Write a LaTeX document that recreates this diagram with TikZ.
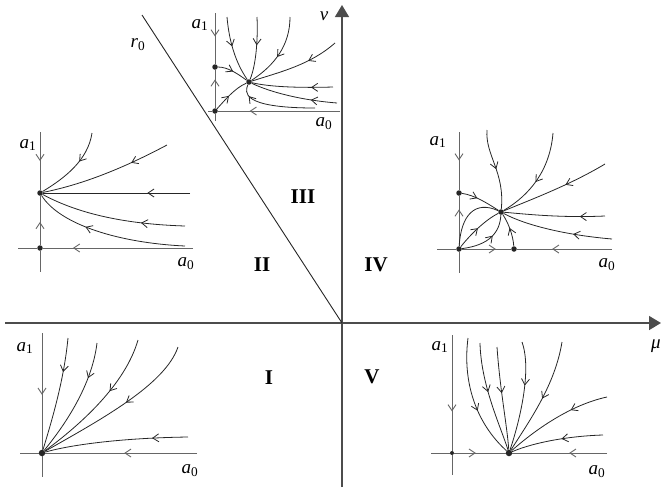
\documentclass[tikz,border=0pt]{standalone}
\usepackage{fontspec}
\setmainfont{Liberation Serif}
\usepackage{tikz}
\usetikzlibrary{arrows.meta,decorations.markings}

\begin{document}
\begin{tikzpicture}[
        x=1pt, y=-1pt,
        main_axis/.style={
            draw=black!70,
            line width=1.5pt,
            -{Triangle[length=12pt,width=14pt]}
        },
        plain_axis/.style={
            draw=black!60,
            line width=0.9pt
        },
        axis_flow/.style={
            plain_axis,
            decoration={markings,
                mark=at position #1 with {\arrow{Straight Barb[length=6pt,width=8pt]}}},
            postaction={decorate}
        },
        flow_line/.style={
            draw=black!85,
            line width=0.8pt,
            decoration={markings,
                mark=at position #1 with {\arrow{Straight Barb[length=6pt,width=8pt]}}},
            postaction={decorate}
        },
        fix_dot/.style={
            circle,
            fill=black!85,
            minimum size=5.5pt,
            inner sep=0pt
        },
        big_dot/.style={
            fix_dot,
            minimum size=6.5pt
        },
        axis_label/.style={
            font=\fontsize{19}{19}\selectfont,
            inner sep=0pt
        },
        region_label/.style={
            font=\fontsize{21}{21}\selectfont\bfseries,
            inner sep=0pt
        }
    ]
        \useasboundingbox (0,0) rectangle (661,488);

        % Parameter plane
        \coordinate (xl) at (5,323);
        \coordinate (xr) at (661,323);
        \coordinate (yb) at (342,487);
        \coordinate (yt) at (342,5);
        \coordinate (orig) at (342,323);
        \coordinate (rtop) at (142,15);
        \draw[main_axis] (xl) -- (xr);
        \draw[main_axis] (yb) -- (yt);
        \draw[draw=black!85, line width=0.9pt] (rtop) -- (orig);

        \node[axis_label] (lmu) at (656,346) {\textit{μ}};
        \node[axis_label] (lv)  at (324,16) {\textit{v}};
        \node[axis_label] (lr0) at (138,45) {\textit{r}\textsubscript{0}};

        \node[region_label] (reg1) at (269,378) {I};
        \node[region_label] (reg2) at (262,265) {II};
        \node[region_label] (reg3) at (303,197) {III};
        \node[region_label] (reg4) at (376,265) {IV};
        \node[region_label] (reg5) at (372,377) {V};

        % Region III portrait
        \node[fix_dot] (o3) at (215,111) {};
        \node[fix_dot] (p3) at (215,67) {};
        \node[fix_dot] (n3) at (249,82) {};
        \draw[axis_flow=0.46] (215,13) -- (p3);
        \draw[axis_flow=0.75] (o3) -- (p3);
        \draw[plain_axis] (o3) -- (215,121);
        \draw[axis_flow=0.74] (340,111) -- (o3);
        \draw[plain_axis] (o3) -- (208,111);
        \draw[flow_line=0.45] (227,17) .. controls (229,40) and (235,62) .. (n3);
        \draw[flow_line=0.45] (257,17) .. controls (258,40) and (256,65) .. (n3);
        \draw[flow_line=0.55] (290,17) .. controls (290,45) and (275,65) .. (n3);
        \draw[flow_line=0.35] (335,43) .. controls (310,65) and (280,72) .. (n3);
        \draw[flow_line=0.27] (333,87) .. controls (300,88) and (270,87) .. (n3);
        \draw[flow_line=0.3]  (337,103) .. controls (300,100) and (270,92) .. (n3);
        \draw[flow_line=0.85] (315,108) .. controls (240,108) and (245,92) .. (n3);
        \draw[flow_line=0.5]  (p3) .. controls (228,67) and (238,74) .. (n3);
        \draw[flow_line=0.45] (o3) .. controls (225,100) and (235,88) .. (n3);
        \node[axis_label] (a1c) at (200,25) {\textit{a}\textsubscript{1}};
        \node[axis_label] (a0c) at (324,124) {\textit{a}\textsubscript{0}};

        % Region II portrait
        \node[fix_dot] (o2) at (40,248) {};
        \node[fix_dot] (n2) at (40,193) {};
        \draw[axis_flow=0.5] (40,132) -- (n2);
        \draw[axis_flow=0.47] (o2) -- (n2);
        \draw[plain_axis] (o2) -- (40,272);
        \draw[axis_flow=0.8] (193,248) -- (o2);
        \draw[plain_axis] (o2) -- (18,248);
        \draw[flow_line=0.4]  (92,133) .. controls (88,160) and (65,178) .. (n2);
        \draw[flow_line=0.3]  (167,145) .. controls (120,170) and (80,185) .. (n2);
        \draw[flow_line=0.29] (190,193) -- (n2);
        \draw[flow_line=0.3]  (185,226) .. controls (120,224) and (75,212) .. (n2);
        \draw[flow_line=0.65] (185,246) .. controls (120,243) and (60,225) .. (n2);
        \node[axis_label] (a1b) at (28,145) {\textit{a}\textsubscript{1}};
        \node[axis_label] (a0b) at (186,264) {\textit{a}\textsubscript{0}};

        % Region IV portrait
        \node[fix_dot] (o4) at (459,249) {};
        \node[fix_dot] (p4) at (459,193) {};
        \node[fix_dot] (q4) at (514,249) {};
        \node[fix_dot] (n4) at (501,212) {};
        \draw[axis_flow=0.49] (459,132) -- (p4);
        \draw[axis_flow=0.73] (o4) -- (p4);
        \draw[plain_axis] (o4) -- (459,273);
        \draw[axis_flow=0.69] (o4) -- (q4);
        \draw[axis_flow=0.63] (612,249) -- (q4);
        \draw[plain_axis] (o4) -- (437,249);
        \draw[flow_line=0.5]  (487,130) .. controls (485,155) and (505,172) .. (n4);
        \draw[flow_line=0.55] (553,133) .. controls (550,170) and (530,195) .. (n4);
        \draw[flow_line=0.4]  (605,164) .. controls (570,185) and (530,200) .. (n4);
        \draw[flow_line=0.25] (605,216) .. controls (560,218) and (525,214) .. (n4);
        \draw[flow_line=0.35] (612,239) .. controls (565,235) and (525,225) .. (n4);
        \draw[flow_line=0.55] (q4) .. controls (513,235) and (508,222) .. (n4);
        \draw[flow_line=0.4]  (p4) .. controls (475,195) and (490,205) .. (n4);
        \draw[draw=black!85, line width=0.8pt] (o4) .. controls (461,215) and (475,200) .. (n4);
        \draw[flow_line=0.5]  (o4) .. controls (470,235) and (485,220) .. (n4);
        \draw[flow_line=0.6]  (o4) .. controls (490,245) and (500,232) .. (n4);
        \node[axis_label] (a1d) at (438,142) {\textit{a}\textsubscript{1}};
        \node[axis_label] (a0d) at (607,265) {\textit{a}\textsubscript{0}};

        % Region I portrait
        \node[big_dot] (o1) at (42,453) {};
        \draw[axis_flow=0.53] (42,333) -- (o1);
        \draw[plain_axis] (o1) -- (42,477);
        \draw[axis_flow=0.48] (197,453) -- (o1);
        \draw[plain_axis] (o1) -- (20,453);
        \draw[flow_line=0.3]  (68,338) .. controls (64,380) and (52,420) .. (o1);
        \draw[flow_line=0.3]  (97,343) .. controls (92,385) and (65,425) .. (o1);
        \draw[flow_line=0.4]  (138,340) .. controls (125,385) and (80,425) .. (o1);
        \draw[flow_line=0.45] (178,347) .. controls (165,385) and (100,420) .. (o1);
        \draw[flow_line=0.25] (188,437) .. controls (120,438) and (70,445) .. (o1);
        \node[axis_label] (a1a) at (25,348) {\textit{a}\textsubscript{1}};
        \node[axis_label] (a0a) at (190,471) {\textit{a}\textsubscript{0}};

        % Region V portrait
        \node[fix_dot, minimum size=4pt] (o5) at (452,453) {};
        \node[big_dot] (n5) at (509,453) {};
        \draw[axis_flow=0.66] (452,335) -- (o5);
        \draw[plain_axis] (o5) -- (452,475);
        \draw[axis_flow=0.42] (o5) -- (n5);
        \draw[axis_flow=0.4] (607,453) -- (n5);
        \draw[plain_axis] (o5) -- (431,453);
        \draw[flow_line=0.6]  (468,338) .. controls (462,385) and (478,425) .. (n5);
        \draw[flow_line=0.45] (480,343) .. controls (481,385) and (500,425) .. (n5);
        \draw[flow_line=0.45] (497,347) .. controls (500,390) and (507,425) .. (n5);
        \draw[flow_line=0.4]  (522,342) .. controls (532,370) and (520,420) .. (n5);
        \draw[flow_line=0.5]  (562,342) .. controls (555,385) and (530,420) .. (n5);
        \draw[flow_line=0.35] (607,397) .. controls (570,405) and (535,430) .. (n5);
        \draw[flow_line=0.45] (603,435) .. controls (570,436) and (535,442) .. (n5);
        \node[axis_label] (a1e) at (440,347) {\textit{a}\textsubscript{1}};
        \node[axis_label] (a0e) at (597,472) {\textit{a}\textsubscript{0}};
    \end{tikzpicture}
\end{document}
